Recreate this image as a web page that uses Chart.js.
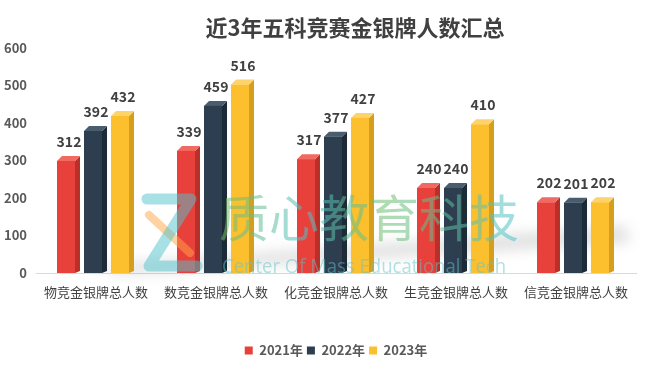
<!DOCTYPE html>
<html>
<head>
<meta charset="utf-8">
<script src="https://cdn.jsdelivr.net/npm/chart.js@4/dist/chart.umd.min.js"></script>
<style>
  html, body { margin: 0; padding: 0; background: #fff; }
  #wrap { width: 659px; height: 365px; }
</style>
</head>
<body>
<div id="wrap"><canvas id="medalChart" width="659" height="365"></canvas></div>
<script>
// data
const categories = ['物竞金银牌总人数', '数竞金银牌总人数', '化竞金银牌总人数', '生竞金银牌总人数', '信竞金银牌总人数'];
const years = ['2021年', '2022年', '2023年'];
const counts2021 = [312, 339, 317, 240, 202];
const counts2022 = [392, 459, 377, 240, 201];
const counts2023 = [432, 516, 427, 410, 202];
const yTicks = [0, 100, 200, 300, 400, 500, 600];
const chartTitle = '近3年五科竞赛金银牌人数汇总';

// face colours for the fake 3d bars
const frontColors = ['#e8403a', '#2c3e50', '#fcbf2d'];
const sideColors = ['#b9302b', '#1d2a37', '#d69e1d'];
const topColors = ['#f06a61', '#4a5d6f', '#fdd36a'];
const DEPTH = 5;
const FONT = '"Noto Sans CJK SC", "Noto Sans", sans-serif';

// floor shadow behind the bars
const floorShadow = {
  id: 'floorShadow',
  beforeDatasetsDraw(chart) {
    const ctx = chart.ctx;
    ctx.save();
    ctx.filter = 'blur(7px)';
    ctx.fillStyle = 'rgba(0,0,0,0.13)';
    ctx.beginPath();
    ctx.moveTo(95, 266);
    ctx.lineTo(625, 226);
    ctx.lineTo(630, 242);
    ctx.lineTo(120, 274);
    ctx.closePath();
    ctx.fill();
    ctx.restore();
  }
};

// draws each bar as front + side + top faces
const bars3d = {
  id: 'bars3d',
  beforeDatasetDraw(chart, args) {
    const ctx = chart.ctx;
    const i = args.index;
    ctx.save();
    args.meta.data.forEach(bar => {
      const w = bar.width;
      const x0 = bar.x - w / 2 - 3;
      const x1 = x0 + w;
      const yv = bar.y;
      const yf = yv + DEPTH;
      const base = bar.base;

      ctx.fillStyle = sideColors[i];
      ctx.beginPath();
      ctx.moveTo(x1, yf);
      ctx.lineTo(x1 + DEPTH, yv);
      ctx.lineTo(x1 + DEPTH, base - 2);
      ctx.lineTo(x1, base);
      ctx.closePath();
      ctx.fill();

      ctx.fillStyle = topColors[i];
      ctx.beginPath();
      ctx.moveTo(x0, yf);
      ctx.lineTo(x0 + DEPTH, yv);
      ctx.lineTo(x1 + DEPTH, yv);
      ctx.lineTo(x1, yf);
      ctx.closePath();
      ctx.fill();

      ctx.fillStyle = frontColors[i];
      ctx.fillRect(x0, yf, w, base - yf);
    });
    ctx.restore();
    return false;
  }
};

// value labels above the bars
const valueLabels = {
  id: 'valueLabels',
  afterDatasetsDraw(chart) {
    const ctx = chart.ctx;
    ctx.save();
    ctx.font = 'bold 14px ' + FONT;
    ctx.fillStyle = '#404040';
    ctx.textAlign = 'center';
    ctx.textBaseline = 'alphabetic';
    chart.data.datasets.forEach((ds, i) => {
      chart.getDatasetMeta(i).data.forEach((bar, j) => {
        ctx.fillText(String(ds.data[j]), bar.x, bar.y - 9);
      });
    });
    ctx.restore();
  }
};

// title + watermark
const decorations = {
  id: 'decorations',
  afterDraw(chart) {
    const ctx = chart.ctx;
    ctx.save();
    ctx.font = 'bold 22px ' + FONT;
    ctx.fillStyle = '#404040';
    ctx.textAlign = 'center';
    ctx.textBaseline = 'middle';
    ctx.fillText(chartTitle, 355, 28);

    // Z logo
    ctx.lineCap = 'round';
    ctx.lineJoin = 'round';
    ctx.strokeStyle = 'rgba(255,165,70,0.5)';
    ctx.lineWidth = 8;
    ctx.beginPath();
    ctx.moveTo(149, 215);
    ctx.lineTo(190, 253);
    ctx.stroke();
    ctx.strokeStyle = 'rgba(80,195,205,0.5)';
    ctx.lineWidth = 11;
    ctx.beginPath();
    ctx.moveTo(147, 199);
    ctx.lineTo(191, 199);
    ctx.lineTo(149, 266);
    ctx.lineTo(197, 266);
    ctx.stroke();

    // big brand text
    const g = ctx.createLinearGradient(220, 192, 512, 244);
    g.addColorStop(0, 'rgba(120,190,90,0.55)');
    g.addColorStop(0.3, 'rgba(80,190,200,0.55)');
    g.addColorStop(0.55, 'rgba(110,190,110,0.55)');
    g.addColorStop(1, 'rgba(80,195,205,0.55)');
    ctx.fillStyle = g;
    ctx.font = '50px ' + FONT;
    ctx.textAlign = 'left';
    ctx.textBaseline = 'middle';
    ctx.fillText('质心教育科技', 219, 218);

    const sub = 'Center Of Mass Educational Tech';
    ctx.font = '20px "Open Sans", ' + FONT;
    const sx = 284 / ctx.measureText(sub).width;
    ctx.fillStyle = 'rgba(100,195,200,0.5)';
    ctx.textBaseline = 'alphabetic';
    ctx.translate(222, 273);
    ctx.scale(sx, 1);
    ctx.fillText(sub, 0, 0);
    ctx.restore();
  }
};

const ctx = document.getElementById('medalChart').getContext('2d');

const medalChart = new Chart(ctx, {
  type: 'bar',
  data: {
    labels: categories,
    datasets: [
      { label: years[0], data: counts2021, backgroundColor: frontColors[0] },
      { label: years[1], data: counts2022, backgroundColor: frontColors[1] },
      { label: years[2], data: counts2023, backgroundColor: frontColors[2] }
    ]
  },
  options: {
    responsive: false,
    animation: false,
    categoryPercentage: 0.675,
    barPercentage: 0.667,
    layout: {
      padding: { top: 48, left: 0, right: 23, bottom: -2 }
    },
    scales: {
      x: {
        grid: { display: false },
        border: { display: true, color: '#d9d9d9', width: 1 },
        ticks: {
          color: '#404040',
          padding: 3,
          maxRotation: 0,
          font: { family: FONT, size: 13 }
        },
        afterFit(scale) { scale.height = 67; }
      },
      y: {
        min: 0,
        max: 600,
        grid: { display: false, drawTicks: false },
        border: { display: false },
        afterBuildTicks(scale) {
          scale.ticks = yTicks.map(v => ({ value: v }));
        },
        ticks: {
          color: '#595959',
          padding: 9,
          font: { family: FONT, size: 13, weight: 'bold' }
        },
        afterFit(scale) { scale.width = 36; }
      }
    },
    plugins: {
      title: { display: false },
      tooltip: { enabled: false },
      legend: {
        position: 'bottom',
        fullSize: false,
        labels: {
          boxWidth: 8,
          boxHeight: 8,
          padding: 4,
          color: '#595959',
          font: { family: FONT, size: 13, weight: 'bold' }
        }
      }
    }
  },
  plugins: [floorShadow, bars3d, valueLabels, decorations]
});
</script>
</body>
</html>
